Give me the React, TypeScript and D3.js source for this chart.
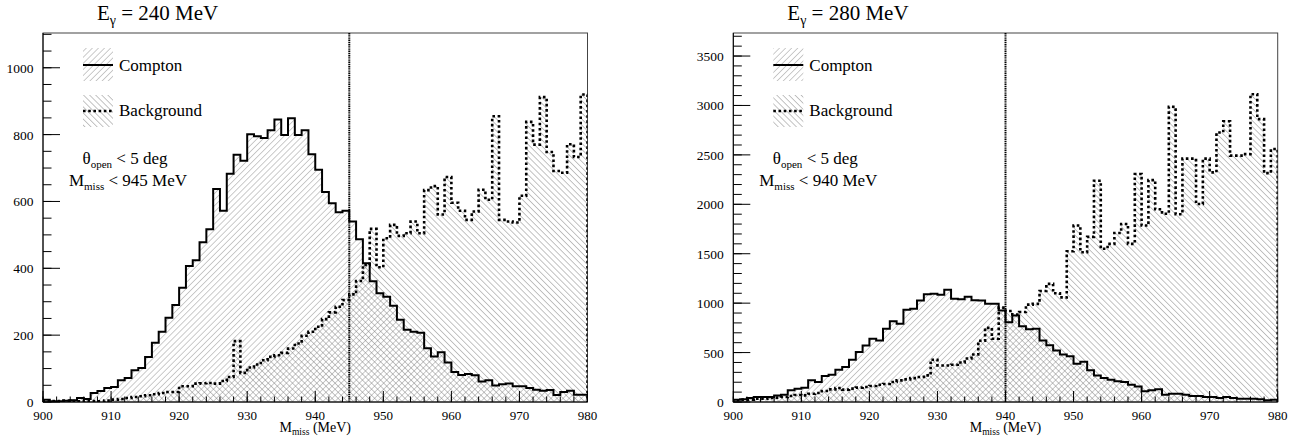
import React from 'react';
import * as d3 from 'd3';

// ---------- data ----------
const BIN_LO = 900;
const BIN_HI = 980;
const BIN_W = 1;

const xTicks = [900, 910, 920, 930, 940, 950, 960, 970, 980];
const yTicksLeft = [0, 200, 400, 600, 800, 1000];
const yTicksRight = [0, 500, 1000, 1500, 2000, 2500, 3000, 3500];

const comptonLeft = [
  7, 2, 2, 4, 5, 12, 9, 27, 33, 42,
  45, 65, 72, 95, 102, 135, 177, 210, 252, 290,
  342, 407, 424, 478, 517, 637, 572, 683, 740, 722,
  801, 795, 790, 813, 845, 799, 849, 799, 813, 741,
  695, 628, 595, 568, 572, 540, 487, 415, 361, 325,
  315, 288, 246, 216, 210, 207, 161, 136, 149, 118,
  90, 81, 84, 80, 61, 65, 49, 53, 55, 47,
  47, 42, 37, 34, 36, 21, 30, 34, 22, 22,
];
const backgroundLeft = [
  2, 3, 3, 4, 3, 2, 3, 3, 2, 4,
  7, 9, 12, 15, 17, 20, 23, 27, 30, 30,
  47, 47, 55, 56, 57, 55, 63, 75, 182, 87,
  103, 112, 125, 135, 140, 147, 160, 175, 198, 210,
  225, 248, 268, 285, 305, 322, 362, 410, 518, 403,
  490, 530, 497, 505, 540, 505, 634, 646, 561, 673,
  596, 572, 545, 570, 635, 605, 855, 545, 540, 537,
  617, 838, 770, 912, 748, 691, 686, 771, 733, 920,
];
const comptonRight = [
  24, 27, 40, 50, 50, 50, 67, 74, 118, 135,
  145, 219, 202, 263, 276, 327, 354, 428, 505, 572,
  640, 623, 741, 818, 791, 933, 943, 1027, 1089, 1094,
  1084, 1136, 1044, 1040, 1066, 1030, 1027, 993, 993, 926,
  808, 875, 766, 736, 742, 623, 575, 522, 481, 463,
  387, 408, 320, 269, 242, 226, 209, 202, 175, 158,
  108, 118, 128, 74, 84, 84, 74, 61, 61, 51,
  51, 40, 51, 40, 34, 34, 34, 27, 17, 24,
];
const backgroundRight = [
  17, 24, 24, 34, 34, 40, 44, 50, 61, 71,
  67, 84, 91, 111, 128, 141, 125, 135, 145, 152,
  162, 175, 182, 202, 219, 229, 242, 253, 269, 428,
  370, 370, 377, 400, 440, 480, 620, 750, 640, 955,
  920, 885, 910, 985, 993, 1123, 1195, 1100, 1058, 1525,
  1785, 1515, 1670, 2239, 1550, 1600, 1710, 1801, 1600, 2306,
  1785, 2245, 1950, 1905, 2987, 1900, 2462, 2462, 2003, 2462,
  2323, 2727, 2840, 2492, 2492, 2508, 3114, 2862, 2315, 2559,
];

const energies = ['240', '280'];
const cuts = [945, 940];
const legendLabels = ['Compton', 'Background'];

// ---------- layout ----------
const W = 1303;
const H = 443;
const TOP = 33;
const BOTTOM = 402;
const FONT = '"Liberation Serif", "Times New Roman", serif';

type PanelProps = {
  x0: number;
  x1: number;
  yMax: number;
  yTicks: number[];
  yMinorStep: number;
  compton: number[];
  background: number[];
  cut: number;
  energy: string;
};

function Panel({ x0, x1, yMax, yTicks, yMinorStep, compton, background, cut, energy }: PanelProps) {
  const x = d3.scaleLinear().domain([BIN_LO, BIN_HI]).range([x0, x1]);
  const y = d3.scaleLinear().domain([0, yMax]).range([BOTTOM, TOP]);

  const pts = (vals: number[]) => [
    ...vals.map((v, i) => [BIN_LO + i * BIN_W, v] as [number, number]),
    [BIN_LO + vals.length * BIN_W, vals[vals.length - 1]] as [number, number],
  ];
  const line = d3
    .line<[number, number]>()
    .x((d) => x(d[0]))
    .y((d) => y(d[1]))
    .curve(d3.curveStepAfter);
  const area = d3
    .area<[number, number]>()
    .x((d) => x(d[0]))
    .y0(y(0))
    .y1((d) => y(d[1]))
    .curve(d3.curveStepAfter);
  const outline = (vals: number[]) =>
    line([[BIN_LO, 0], ...pts(vals), [BIN_HI, 0]]) || '';

  const xMinor = d3.range(BIN_LO, BIN_HI + 0.001, 2);
  const yMinor = d3.range(0, yMax, yMinorStep);

  const clipId = `clip-${energy}`;
  const lx = x0 + 40;

  return (
    <g>
      <defs>
        <clipPath id={clipId}>
          <rect x={x0} y={TOP} width={x1 - x0} height={BOTTOM - TOP} />
        </clipPath>
      </defs>
      {/* frame */}
      <rect x={x0} y={TOP} width={x1 - x0} height={BOTTOM - TOP} fill="none" stroke="#444" strokeWidth={1} />

      <g clipPath={`url(#${clipId})`}>
        <path d={area(pts(compton)) || ''} fill="url(#hatchFwd)" />
        <path d={area(pts(background)) || ''} fill="url(#hatchBack)" />
        <path d={outline(compton)} fill="none" stroke="#000" strokeWidth={2} />
        <path d={outline(background)} fill="none" stroke="#000" strokeWidth={2.6} strokeDasharray="2.6,2.6" />
      </g>

      {/* cut line */}
      <line x1={x(cut)} x2={x(cut)} y1={TOP} y2={BOTTOM} stroke="#000" strokeWidth={2} strokeDasharray="1.4,0.8" />

      {/* axes */}
      <line x1={x0} x2={x1} y1={BOTTOM} y2={BOTTOM} stroke="#000" strokeWidth={1} />
      <line x1={x0} x2={x0} y1={TOP} y2={BOTTOM} stroke="#000" strokeWidth={1} />
      {xMinor.map((t) => (
        <line key={`xm${t}`} x1={x(t)} x2={x(t)} y1={BOTTOM} y2={BOTTOM - 5.5} stroke="#000" strokeWidth={1} />
      ))}
      {xTicks.map((t) => (
        <g key={`x${t}`}>
          <line x1={x(t)} x2={x(t)} y1={BOTTOM} y2={BOTTOM - 11} stroke="#000" strokeWidth={1} />
          <text x={x(t)} y={419.5} textAnchor="middle" fontSize={13} fontFamily={FONT} fill="#000">
            {t}
          </text>
        </g>
      ))}
      {yMinor.map((t) => (
        <line key={`ym${t}`} x1={x0} x2={x0 + 8.5} y1={y(t)} y2={y(t)} stroke="#000" strokeWidth={1} />
      ))}
      {yTicks.map((t) => (
        <g key={`y${t}`}>
          <line x1={x0} x2={x0 + 17} y1={y(t)} y2={y(t)} stroke="#000" strokeWidth={1} />
          <text x={x0 - 9.5} y={y(t) + 5} textAnchor="end" fontSize={13.5} fontFamily={FONT} fill="#000">
            {t}
          </text>
        </g>
      ))}

      {/* axis title */}
      <text x={(x0 + x1) / 2} y={432} textAnchor="middle" fontSize={14} fontFamily={FONT} fill="#000">
        M<tspan fontSize={9.5} dy={3}>miss</tspan>
        <tspan dy={-3}> (MeV)</tspan>
      </text>

      {/* title */}
      <text x={x0 + 54} y={20} fontSize={21} fontFamily={FONT} fill="#000">
        E<tspan fontSize={14} dy={5}>γ</tspan>
        <tspan dy={-5}> = {energy} MeV</tspan>
      </text>

      {/* legend */}
      <rect x={lx} y={48} width={30} height={33} fill="url(#hatchFwd)" />
      <line x1={lx} x2={lx + 30} y1={65} y2={65} stroke="#000" strokeWidth={2} />
      <text x={lx + 36} y={71} fontSize={17} fontFamily={FONT} fill="#000">
        {legendLabels[0]}
      </text>
      <rect x={lx} y={95} width={30} height={32} fill="url(#hatchBack)" />
      <line x1={lx} x2={lx + 30} y1={111} y2={111} stroke="#000" strokeWidth={2.6} strokeDasharray="2.6,2.6" />
      <text x={lx + 36} y={116} fontSize={17} fontFamily={FONT} fill="#000">
        {legendLabels[1]}
      </text>

      {/* cuts annotation */}
      <text x={x0 + 82} y={164} textAnchor="middle" fontSize={17} fontFamily={FONT} fill="#000">
        θ<tspan fontSize={11} dy={4}>open</tspan>
        <tspan dy={-4}> &lt; 5 deg</tspan>
      </text>
      <text x={x0 + 85} y={186} textAnchor="middle" fontSize={17} fontFamily={FONT} fill="#000">
        M<tspan fontSize={11} dy={4}>miss</tspan>
        <tspan dy={-4}> &lt; {cut} MeV</tspan>
      </text>
    </g>
  );
}

export default function App() {
  return (
    <svg
      width={W}
      height={H}
      viewBox={`0 0 ${W} ${H}`}
      style={{ position: 'absolute', left: 0, top: 0, background: '#fff' }}
    >
      <defs>
        <pattern id="hatchFwd" patternUnits="userSpaceOnUse" width={4.3} height={10} patternTransform="rotate(45)">
          <line x1={0} y1={0} x2={0} y2={10} stroke="#8a8a8a" strokeWidth={0.9} />
        </pattern>
        <pattern id="hatchBack" patternUnits="userSpaceOnUse" width={4.3} height={10} patternTransform="rotate(-45)">
          <line x1={0} y1={0} x2={0} y2={10} stroke="#7a7a7a" strokeWidth={0.9} />
        </pattern>
      </defs>
      <rect x={0} y={0} width={W} height={H} fill="#fff" />
      <Panel
        x0={43}
        x1={587.5}
        yMax={1104}
        yTicks={yTicksLeft}
        yMinorStep={50}
        compton={comptonLeft}
        background={backgroundLeft}
        cut={cuts[0]}
        energy={energies[0]}
      />
      <Panel
        x0={733.3}
        x1={1277.7}
        yMax={3733}
        yTicks={yTicksRight}
        yMinorStep={100}
        compton={comptonRight}
        background={backgroundRight}
        cut={cuts[1]}
        energy={energies[1]}
      />
    </svg>
  );
}
